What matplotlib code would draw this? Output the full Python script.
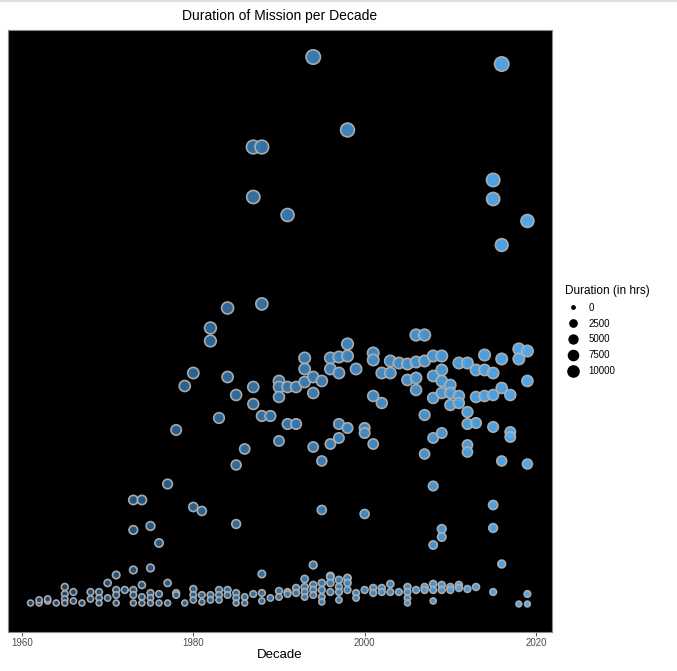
import numpy as np
import matplotlib
matplotlib.use("Agg")
import matplotlib.pyplot as plt
from matplotlib.colors import LinearSegmentedColormap, Normalize
from matplotlib.lines import Line2D

plt.rcParams['font.family'] = ['Liberation Sans', 'DejaVu Sans']

# mission durations (hours), grouped by launch year
durations_by_year = {
    1961: [57],
    1962: [57, 115],
    1963: [96, 134],
    1964: [57],
    1965: [363, 229, 134, 57],
    1966: [267, 96],
    1967: [57],
    1968: [267, 134],
    1969: [267, 153, 57],
    1970: [439, 153],
    1971: [592, 306, 210, 57],
    1972: [306],
    1973: [2025, 1452, 688, 306, 210, 57],
    1974: [2025, 401, 172, 57],
    1975: [1528, 726, 248, 153, 57],
    1976: [1203, 229, 57],
    1977: [2330, 439, 57],
    1978: [3362, 248, 210],
    1979: [4202, 57],
    1980: [4450, 1891, 325, 210, 115],
    1981: [1815, 210, 76],
    1982: [5310, 5062, 210, 115],
    1983: [3591, 306, 210, 115],
    1984: [5692, 4374, 306, 210],
    1985: [4030, 2693, 1566, 248, 153, 57],
    1986: [2999, 172, 57],
    1987: [8767, 7812, 4183, 3858, 229],
    1988: [8767, 5770, 3629, 611, 248, 96],
    1989: [3629, 153],
    1990: [4298, 4183, 3992, 3152, 287, 172],
    1991: [7468, 4183, 3476, 267, 229],
    1992: [4183, 3476, 344, 248],
    1993: [4737, 4527, 4278, 516, 363, 267, 172],
    1994: [10486, 4374, 4068, 3037, 783, 401, 306, 210],
    1995: [4298, 2770, 1834, 439, 306, 172, 76],
    1996: [4737, 4527, 3094, 573, 554, 439, 267],
    1997: [4756, 4450, 3476, 3209, 497, 363, 267, 115],
    1998: [9092, 5004, 4775, 3400, 535, 439, 306],
    1999: [4527, 248, 153],
    2000: [3400, 3304, 1757, 306],
    2001: [4832, 4699, 4011, 3094, 344, 248],
    2002: [4450, 3877, 344, 267],
    2003: [4680, 4450, 420, 267],
    2004: [4641, 267],
    2005: [4622, 4317, 363, 267, 153, 57],
    2006: [5176, 4660, 4355, 4126, 306],
    2007: [5176, 4680, 3648, 2903, 363, 306],
    2008: [4775, 4393, 3973, 3209, 2292, 1165, 420, 306, 96],
    2009: [4775, 4508, 4298, 4068, 3304, 1471, 1318, 401, 306],
    2010: [4221, 4068, 3839, 363, 306],
    2011: [4641, 4011, 3877, 401, 344],
    2012: [4641, 3705, 3476, 3075, 2941, 325],
    2013: [4508, 3992, 3495, 363],
    2014: [4794, 4508, 4011],
    2015: [8137, 7774, 4450, 4030, 3419, 1929, 1490, 267],
    2016: [10352, 6895, 4718, 4164, 2770, 802],
    2017: [4030, 3323, 3228],
    2018: [4909, 4718, 38],
    2019: [7354, 4870, 4298, 2712, 229, 38],
}

legend_values = [0, 2500, 5000, 7500, 10000]
x_ticks = [1960, 1980, 2000, 2020]

years = np.array([y for y, ds in durations_by_year.items() for _ in ds])
hours = np.array([d for ds in durations_by_year.values() for d in ds])

PX = 1.389  # px per point at 100 dpi


def point_diam(v):
    # plotted point diameter, in points
    return (5.2 + 9 * np.sqrt(np.asarray(v) / 10000.0)) / PX


def key_diam(v):
    # legend key diameter, in points
    return (3.4 + 7.8 * np.sqrt(v / 10000.0)) / PX


cmap = LinearSegmentedColormap.from_list("ggblue", ["#1B4469", "#56B1F7"])
norm = Normalize(vmin=years.min(), vmax=years.max())

fig = plt.figure(figsize=(6.77, 6.71), dpi=100)
ax = fig.add_axes([8 / 677, 1 - 632 / 671, 544 / 677, 602 / 671])
ax.set_facecolor("black")

ax.scatter(years, hours, s=point_diam(hours) ** 2, c=cmap(norm(years)),
           edgecolors="#b0b0b0", linewidths=1.2, alpha=0.95, zorder=3)

ax.set_xlim(1958.37, 2021.87)
ax.set_ylim(-497, 11002)
ax.set_xticks(x_ticks)
ax.set_xticklabels([str(t) for t in x_ticks], fontsize=7, color="#4d4d4d")
ax.tick_params(axis="x", length=3, width=0.6, color="#333333", pad=1)
ax.set_yticks([])
for sp in ax.spines.values():
    sp.set_color("#8a8a8a")
    sp.set_linewidth(0.8)

ax.set_xlabel("Decade", fontsize=9.5, labelpad=1)
ax.set_title("Duration of Mission per Decade", fontsize=10, pad=7)

handles = [Line2D([], [], linestyle="none", marker="o", color="black",
                  markersize=float(key_diam(v))) for v in legend_values]
leg = fig.legend(handles, [str(v) for v in legend_values], title="Duration (in hrs)",
                 loc="upper left", bbox_to_anchor=(561 / 677, 1 - 281 / 671),
                 frameon=False, fontsize=7, title_fontsize=8.5,
                 handletextpad=0.8, handlelength=1.6, labelspacing=0.6,
                 borderaxespad=0)
leg._legend_box.align = "left"

fig.add_artist(Line2D([0, 1], [0.999, 0.999], color="#dddddd", lw=1.5,
                      transform=fig.transFigure))

fig.savefig("out.png", dpi=100)
